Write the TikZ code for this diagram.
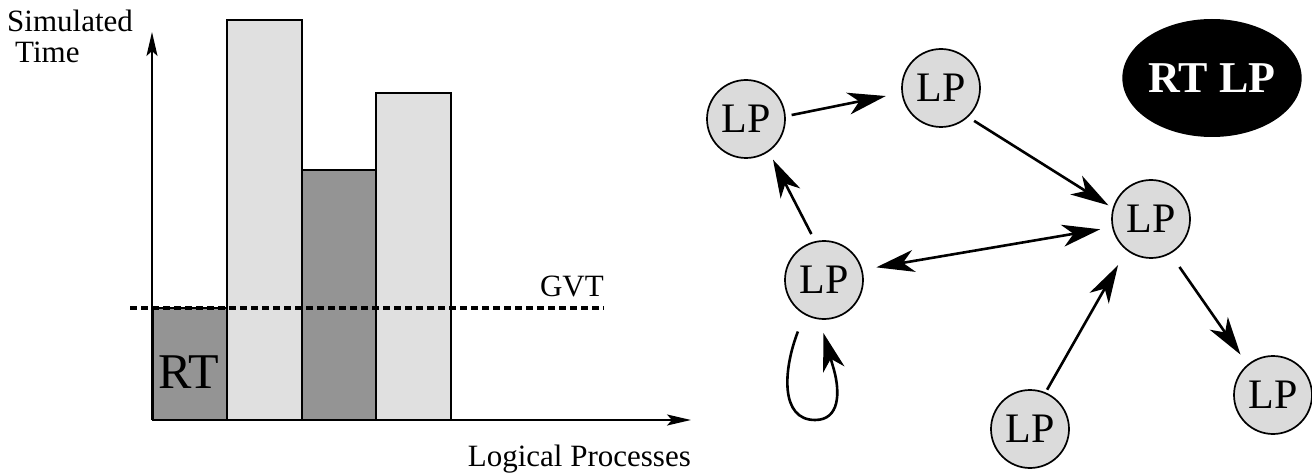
\documentclass[tikz,border=0pt]{standalone}
\usepackage{fontspec}
\setmainfont{Liberation Serif}
\usetikzlibrary{arrows.meta,shapes.geometric}
\definecolor{darkbar}{gray}{0.58}
\definecolor{lightbar}{gray}{0.88}
\definecolor{lpfill}{gray}{0.86}
\begin{document}
\begin{tikzpicture}[x=1pt,y=-1pt,
  bar/.style={draw=black, line width=1.4pt},
  lp/.style={circle, draw, line width=1.7pt, fill=lpfill, minimum size=78pt, inner sep=0pt, font=\fontsize{42}{42}\selectfont},
  rtlp/.style={ellipse, fill=black, text=white, minimum width=148pt, minimum height=118pt, inner sep=0pt, font=\fontsize{44}{44}\selectfont\bfseries},
  lbl/.style={inner sep=0pt, font=\fontsize{31}{31}\selectfont},
  axis/.style={line width=2pt, -{Stealth[length=24pt,width=11pt,inset=5pt]}},
  arr/.style={line width=2.6pt, -{Stealth[length=38pt,width=22pt,inset=11pt]}},
  dbl/.style={line width=2.6pt, {Stealth[length=38pt,width=22pt,inset=11pt]}-{Stealth[length=38pt,width=22pt,inset=11pt]}},
  gvt/.style={line width=3.5pt, dash pattern=on 7pt off 4pt}]
\useasboundingbox (0,0) rectangle (1312,473);
% bars
\draw[bar, fill=darkbar]  (153,420) rectangle (227,308);
\draw[bar, fill=lightbar] (227,420) rectangle (302,20);
\draw[bar, fill=darkbar]  (302,420) rectangle (376,170);
\draw[bar, fill=lightbar] (376,420) rectangle (451,93);
% axes
\coordinate (O) at (152,420);
\coordinate (ytip) at (152,32);
\coordinate (xtip) at (691,420);
\draw[axis] (O) -- (ytip);
\draw[axis] (O) -- (xtip);
% GVT
\coordinate (g1) at (130,308);
\coordinate (g2) at (604,308);
\draw[gvt] (g1) -- (g2);
% labels
\node[lbl, anchor=base west] (sim) at (7,32) {Simulated};
\node[lbl, anchor=base west] (time) at (15,63) {Time};
\node[lbl, anchor=base east] (gvtl) at (604,296) {GVT};
\node[lbl, anchor=base east] (lpx) at (691,466) {Logical Processes};
\node[inner sep=0pt, anchor=base west, font=\fontsize{50}{50}\selectfont] (rtlabel) at (158,388) {RT};
% graph
\node[lp] (n1) at (746,119) {LP};
\node[lp] (n2) at (941,88) {LP};
\node[lp] (n3) at (1151,219) {LP};
\node[lp] (n4) at (824,280) {LP};
\node[lp] (n5) at (1030,429) {LP};
\node[lp] (n6) at (1273,395) {LP};
\node[rtlp] (rtlp) at (1212,78) {RT LP};
\draw[arr, shorten <=6pt, shorten >=16pt] (n1.4) -- (n2.187);
\draw[arr, shorten <=7pt, shorten >=5pt] (n2.-47) -- (n3.164);
\draw[arr, shorten <=8pt, shorten >=9pt] (n4.103) -- (n1.-55);
\draw[dbl, shorten <=14pt, shorten >=12pt] (n4.15) -- (n3.192);
\draw[arr, shorten <=3pt, shorten >=17pt] (n5.67) -- (n3.232);
\draw[arr, shorten <=16pt, shorten >=12pt] (n3.-61) -- (n6.130);
% self loop
\path (n4.243) ++(-8,16) coordinate (ls);
\path (n4.269) ++(0,13) coordinate (le);
\draw[arr] (ls) .. controls (783,370) and (780,420) .. (815,420) .. controls (840,420) and (840,392) .. (834,370) -- (le);
\end{tikzpicture}
\end{document}
